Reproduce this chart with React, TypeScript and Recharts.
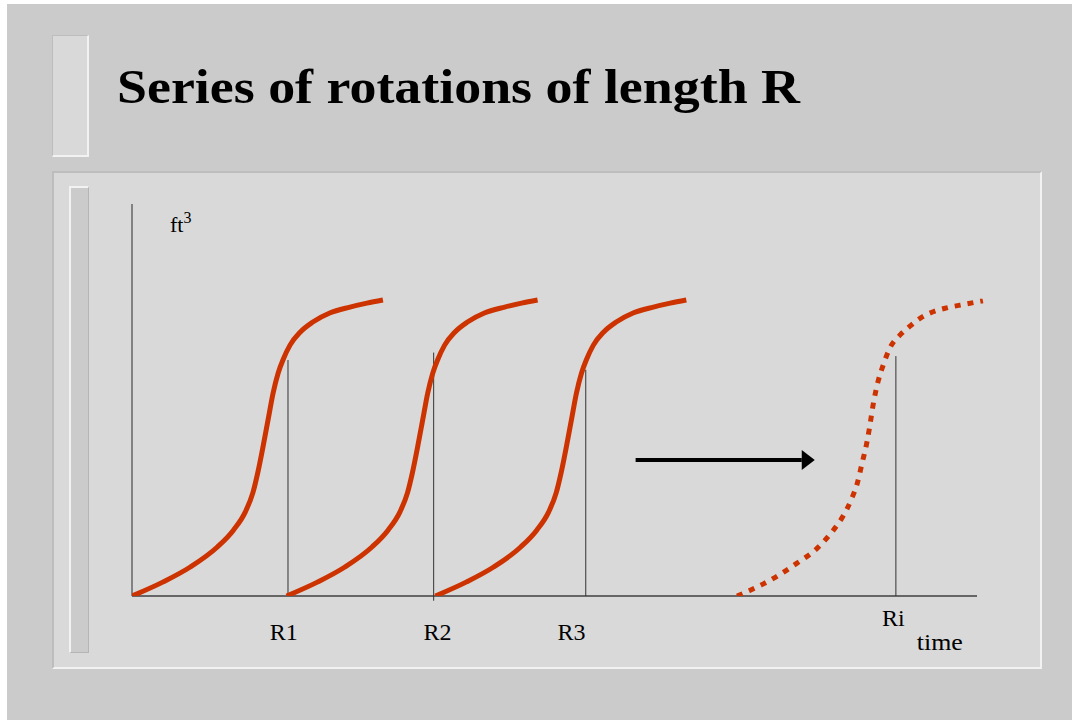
import React from 'react';
import { LineChart, Line, XAxis, YAxis, ReferenceLine } from 'recharts';

// Stand volume (ft³) against time for successive rotations.
const rotation1Time = [0, 3.7, 6.9, 10.1, 12.0, 13.4, 14.3, 14.9, 15.5, 16.1, 16.7, 17.3, 17.9, 18.7, 19.9, 21.4, 23.4, 25.8, 27.8, 29.7];
const rotation2Time = [18.3, 22.0, 25.2, 28.4, 30.3, 31.7, 32.6, 33.2, 33.8, 34.4, 35.0, 35.6, 36.2, 37.0, 38.2, 39.7, 41.7, 44.1, 46.1, 48.0];
const rotation3Time = [35.9, 39.6, 42.8, 46.0, 47.9, 49.3, 50.2, 50.8, 51.4, 52.0, 52.6, 53.2, 53.8, 54.6, 55.8, 57.3, 59.3, 61.7, 63.7, 65.6];
const rotationVolume = [0, 3.6, 7.4, 12.5, 16.8, 21.4, 26.3, 31.6, 38.0, 44.9, 51.8, 56.9, 60.4, 64.0, 67.3, 69.9, 72.2, 73.7, 74.7, 75.5];

// The i-th rotation, drawn dotted.
const rotationITime = [71.6, 73.1, 75.9, 78.7, 81.1, 83.0, 84.1, 85.2, 85.8, 86.4, 87.0, 87.3, 87.7, 88.3, 88.9, 89.7, 90.9, 92.1, 93.3, 94.8, 96.4, 98.0, 100.7];
const rotationIVolume = [0, 1.4, 4.5, 8.4, 12.2, 16.8, 20.2, 25.0, 28.5, 33.9, 39.5, 43.2, 48.7, 54.8, 58.9, 63.3, 66.6, 68.9, 70.9, 72.5, 73.5, 74.2, 75.3];

// Rotation ends (harvest times) and the volume markers drawn at them.
const rotationEnds = [18.46, 35.7, 53.7, 90.4];
const rotationEndVolume = [60.2, 62.1, 57.7, 61.2];
const rotationEndBase = [0, -1.2, 0, 0];

// Tick labels under the time axis.
const rotationLabels = ['R1', 'R2', 'R3', 'Ri'];
const rotationLabelAt = [17.96, 36.15, 52.0, 90.1];
const timeLabel = 'time';
const timeLabelAt = 95.6;
const volumeLabel = 'ft';
const volumeLabelSup = '3';

const axisEnd = 100;
const volumeTop = 100;
const arrowStart = { t: 59.6, v: 34.7 };
const arrowEnd = { t: 80.8, v: 34.7 };

const title = 'Series of rotations of length R';

const toPoints = (times: number[], volumes: number[]) =>
  times.map((t, i) => ({ t, v: volumes[i] }));

const rotation1 = toPoints(rotation1Time, rotationVolume);
const rotation2 = toPoints(rotation2Time, rotationVolume);
const rotation3 = toPoints(rotation3Time, rotationVolume);
const rotationI = toPoints(rotationITime, rotationIVolume);

const CURVE = '#cc3300';
const SERIF = '"Liberation Serif", "Times New Roman", serif';

const tickValues = [...rotationLabelAt, timeLabelAt];

const renderTick = (props: any) => {
  const { x, y, payload } = props;
  const i = tickValues.indexOf(payload.value);
  if (i >= 0 && i < rotationLabels.length) {
    const dy = rotationLabels[i] === 'Ri' ? 22 : 36;
    return (
      <text x={x} y={y + dy} textAnchor="middle" fontFamily={SERIF} fontSize={24} fill="#000">
        {rotationLabels[i]}
      </text>
    );
  }
  return (
    <text x={x} y={y + 46} textAnchor="middle" fontFamily={SERIF} fontSize={24} fill="#000" textLength={46} lengthAdjust="spacingAndGlyphs">
      {timeLabel}
    </text>
  );
};

const renderVolumeLabel = (props: any) => {
  const vb = props.viewBox || { x: 0, y: 0 };
  return (
    <text x={vb.x + 38} y={vb.y + 28} fontFamily={SERIF} fontSize={22} fill="#000">
      {volumeLabel}
      <tspan fontSize={16} dy={-9}>{volumeLabelSup}</tspan>
    </text>
  );
};

const renderArrow = (props: any) => {
  const { x1, y1, x2, y2 } = props;
  const head = 13;
  return (
    <g>
      <line x1={x1} y1={y1} x2={x2 - head} y2={y2} stroke="#000" strokeWidth={4} />
      <polygon points={`${x2 - head},${y2 - 10} ${x2},${y2} ${x2 - head},${y2 + 10}`} fill="#000" />
    </g>
  );
};

export default function App() {
  return (
    <div style={{ position: 'absolute', left: 0, top: 0, width: 1072, height: 720, background: '#fff', overflow: 'hidden' }}>
      <div style={{ position: 'absolute', left: 7, top: 4, width: 1065, height: 716, background: '#cbcbcb' }} />
      <div
        style={{
          position: 'absolute', left: 52, top: 35, width: 37, height: 122, boxSizing: 'border-box',
          background: '#d9d9d9', borderTop: '1px solid #bdbdbd', borderLeft: '1px solid #bdbdbd',
          borderRight: '2px solid #f2f2f2', borderBottom: '2px solid #f2f2f2',
        }}
      />
      <div
        style={{
          position: 'absolute', left: 52, top: 171, width: 990, height: 498, boxSizing: 'border-box',
          background: '#d9d9d9', borderTop: '2px solid #bdbdbd', borderLeft: '2px solid #bdbdbd',
          borderRight: '2px solid #f2f2f2', borderBottom: '2px solid #f2f2f2',
        }}
      />
      <div
        style={{
          position: 'absolute', left: 69, top: 186, width: 20, height: 467, boxSizing: 'border-box',
          background: '#cbcbcb', borderTop: '2px solid #f2f2f2', borderLeft: '2px solid #f2f2f2',
          borderRight: '1px solid #b5b5b5', borderBottom: '1px solid #b5b5b5',
        }}
      />
      <svg width={1072} height={160} style={{ position: 'absolute', left: 0, top: 0 }}>
        <text
          x={117}
          y={103}
          fontFamily={SERIF}
          fontWeight="bold"
          fontSize={48}
          fill="#000"
          textLength={683}
          lengthAdjust="spacingAndGlyphs"
        >
          {title}
        </text>
      </svg>
      <div style={{ position: 'absolute', left: 0, top: 0 }}>
        <LineChart width={1072} height={720} margin={{ top: 204, left: 132, right: 61.2, bottom: 64 }}>
          <XAxis
            dataKey="t"
            type="number"
            domain={[0, 104]}
            allowDataOverflow
            ticks={tickValues}
            interval={0}
            tick={renderTick}
            axisLine={false}
            tickLine={false}
            height={60}
          />
          <YAxis type="number" domain={[0, volumeTop]} allowDataOverflow hide />
          <ReferenceLine
            segment={[{ x: 0, y: 0 }, { x: 0, y: volumeTop }]}
            stroke="#2a2a2a"
            strokeWidth={1}
            ifOverflow="visible"
            label={renderVolumeLabel}
          />
          <ReferenceLine
            segment={[{ x: 0, y: 0 }, { x: axisEnd, y: 0 }]}
            stroke="#666"
            strokeWidth={2}
            ifOverflow="visible"
          />
          {rotationEnds.map((t, i) => (
            <ReferenceLine
              key={rotationLabels[i]}
              segment={[{ x: t, y: rotationEndBase[i] }, { x: t, y: rotationEndVolume[i] }]}
              stroke="#333"
              strokeWidth={1}
              ifOverflow="visible"
            />
          ))}
          <ReferenceLine
            segment={[{ x: arrowStart.t, y: arrowStart.v }, { x: arrowEnd.t, y: arrowEnd.v }]}
            shape={renderArrow}
            ifOverflow="visible"
          />
          <Line data={rotation1} dataKey="v" type="monotone" stroke={CURVE} strokeWidth={5} dot={false} isAnimationActive={false} />
          <Line data={rotation2} dataKey="v" type="monotone" stroke={CURVE} strokeWidth={5} dot={false} isAnimationActive={false} />
          <Line data={rotation3} dataKey="v" type="monotone" stroke={CURVE} strokeWidth={5} dot={false} isAnimationActive={false} />
          <Line
            data={rotationI}
            dataKey="v"
            type="monotone"
            stroke={CURVE}
            strokeWidth={5}
            strokeDasharray="6 7"
            dot={false}
            isAnimationActive={false}
          />
        </LineChart>
      </div>
    </div>
  );
}
